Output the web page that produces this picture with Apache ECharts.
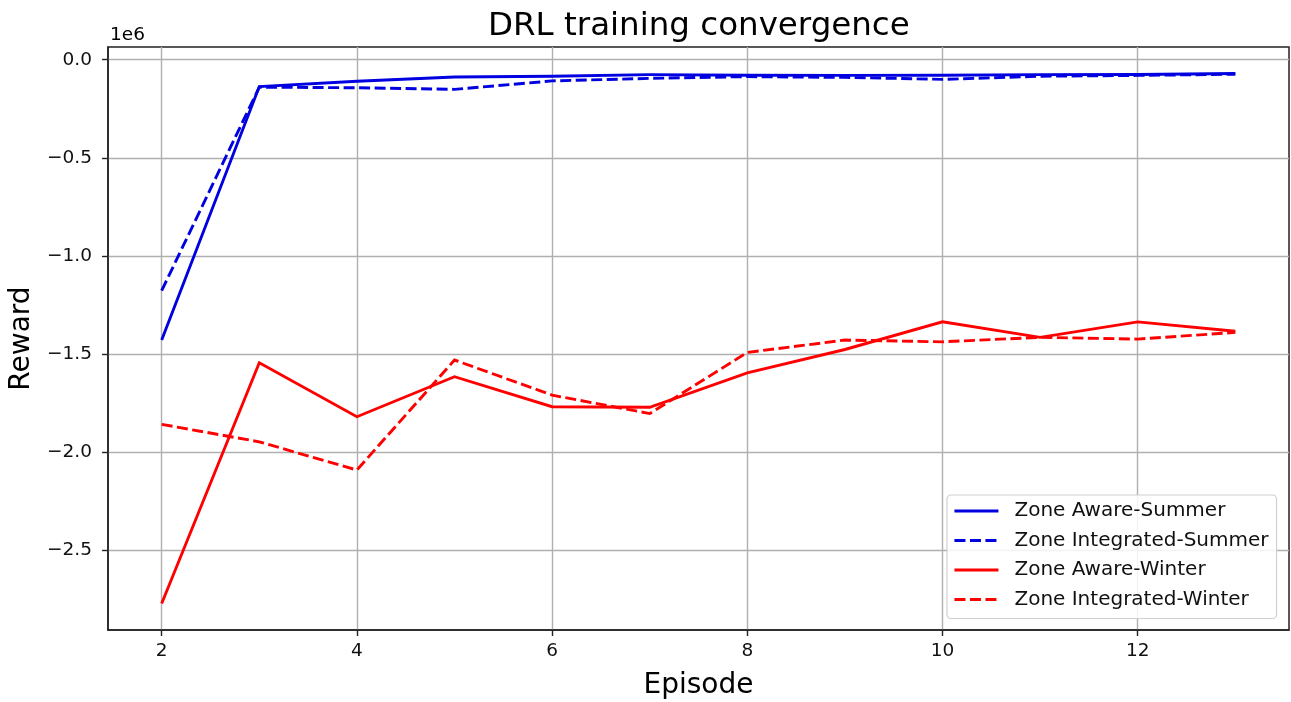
<!DOCTYPE html>
<html>
<head>
<meta charset="utf-8">
<script src="https://cdn.jsdelivr.net/npm/echarts@6/dist/echarts.min.js"></script>
<style>
html,body{margin:0;padding:0;background:#fff;}
#chart{width:1291px;height:702px;}
</style>
</head>
<body>
<div id="chart"></div>
<script>
// Data
const episodes = [2, 3, 4, 5, 6, 7, 8, 9, 10, 11, 12, 13];
const awareSummer = [-1430000, -137000, -110000, -88000, -84000, -76000, -79000, -80000, -79000, -76000, -75000, -70000];
const integratedSummer = [-1178000, -140000, -143000, -151000, -108000, -95000, -86000, -90000, -100000, -84000, -80000, -74000];
const awareWinter = [-2774000, -1546000, -1821000, -1617000, -1770000, -1773000, -1597000, -1478000, -1337000, -1416000, -1337000, -1385000];
const integratedWinter = [-1860000, -1949000, -2093000, -1532000, -1711000, -1805000, -1493000, -1430000, -1439000, -1416000, -1425000, -1391000];
const seriesNames = ['Zone Aware-Summer', 'Zone Integrated-Summer', 'Zone Aware-Winter', 'Zone Integrated-Winter'];
const xTicks = [2, 4, 6, 8, 10, 12];
const yTicks = [0, -500000, -1000000, -1500000, -2000000, -2500000];

const FONT = 'DejaVu Sans';
const BLUE = '#0000e0';
const RED = '#ff0000';
const DASH = [11, 4.5];

function pairs(vals) { return episodes.map((e, i) => [e, vals[i]]); }
function mkSeries(name, vals, color, dashed) {
  return {
    name: name, type: 'line', data: pairs(vals),
    symbol: 'none', showSymbol: false, animation: false,
    lineStyle: { color: color, width: 2.9, type: dashed ? DASH : 'solid', cap: 'butt', join: 'miter' },
    itemStyle: { color: color },
    emphasis: { disabled: true }
  };
}

const chart = echarts.init(document.getElementById('chart'), null, { renderer: 'canvas' });
chart.setOption({
  animation: false,
  backgroundColor: '#fff',
  textStyle: { fontFamily: FONT },
  title: {
    text: 'DRL training convergence',
    left: 488, top: 10, padding: 0,
    textStyle: { fontFamily: FONT, fontSize: 32.5, fontWeight: 'normal', color: '#000' }
  },
  graphic: [{
    type: 'text', left: 110, top: 26,
    style: { text: '1e6', font: '18.5px "DejaVu Sans"', fill: '#000' }
  }],
  grid: {
    left: 108, right: 2, top: 47, bottom: 72,
    containLabel: false, outerBoundsMode: 'none',
    show: true, borderColor: '#222', borderWidth: 1.5, backgroundColor: 'transparent'
  },
  legend: {
    orient: 'vertical',
    left: 947, top: 495,
    padding: [6, 8, 9, 6],
    itemWidth: 44, itemHeight: 20, itemGap: 9.5,
    backgroundColor: 'rgba(255,255,255,0.85)',
    borderColor: '#d0d0d0', borderWidth: 1.2, borderRadius: 4,
    itemStyle: { opacity: 0 },
    lineStyle: { width: 2.9 },
    textStyle: { fontFamily: FONT, fontSize: 20, color: '#111', padding: [0, 0, 0, 11] },
    data: seriesNames
  },
  xAxis: {
    type: 'value', min: 1.45, max: 13.55,
    name: 'Episode', nameLocation: 'middle', nameGap: 42,
    nameTextStyle: { fontFamily: FONT, fontSize: 28, color: '#000' },
    axisLine: { show: true, onZero: false, lineStyle: { color: '#222', width: 1.5 } },
    axisTick: { show: true, inside: false, length: 6, lineStyle: { color: '#222', width: 1.4 }, customValues: xTicks },
    axisLabel: { fontFamily: FONT, fontSize: 18.5, color: '#111', margin: 12, customValues: xTicks, formatter: v => String(v) },
    splitLine: { show: true, lineStyle: { color: '#b0b0b0', width: 1.4 } }
  },
  yAxis: {
    type: 'value', min: -2909000, max: 65000,
    name: 'Reward', nameLocation: 'middle', nameGap: 67,
    nameTextStyle: { fontFamily: FONT, fontSize: 28, color: '#000' },
    axisLine: { show: true, onZero: false, lineStyle: { color: '#222', width: 1.5 } },
    axisTick: { show: true, inside: false, length: 6, lineStyle: { color: '#222', width: 1.4 }, customValues: yTicks },
    axisLabel: {
      fontFamily: FONT, fontSize: 18.5, color: '#111', margin: 16, customValues: yTicks,
      formatter: v => { const s = (v / 1e6).toFixed(1); return s.replace('-', '\u2212'); }
    },
    splitLine: { show: true, lineStyle: { color: '#b0b0b0', width: 1.4 } }
  },
  series: [
    mkSeries(seriesNames[0], awareSummer, BLUE, false),
    mkSeries(seriesNames[1], integratedSummer, BLUE, true),
    mkSeries(seriesNames[2], awareWinter, RED, false),
    mkSeries(seriesNames[3], integratedWinter, RED, true)
  ]
});
</script>
</body>
</html>
